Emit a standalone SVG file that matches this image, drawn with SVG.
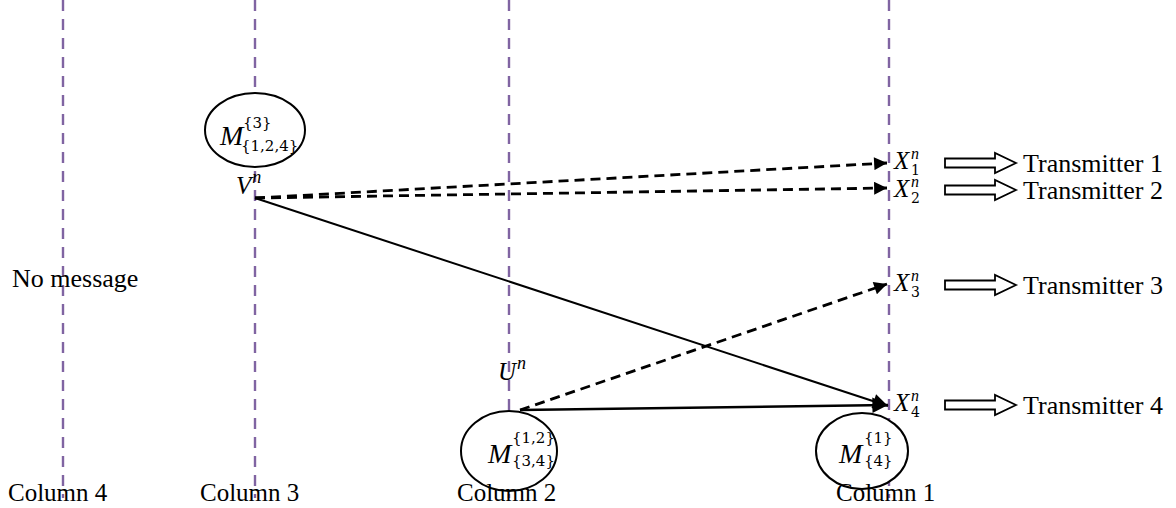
<svg xmlns="http://www.w3.org/2000/svg" width="1176" height="508" viewBox="0 0 1176 508">
<defs>
<style>
.col{stroke:#8064A2;stroke-width:2.4;stroke-dasharray:11 8;fill:none}
.node{fill:#fff;stroke:#000;stroke-width:2}
.dash{stroke:#000;stroke-width:2.8;stroke-dasharray:10 6;fill:none}
.solid{stroke:#000;stroke-width:2;fill:none}
.solid2{stroke:#000;stroke-width:2.6;fill:none}
.lbl{font-family:"Liberation Serif","Times New Roman",serif;font-size:26px;fill:#000}
.col-lbl{font-family:"Liberation Serif","Times New Roman",serif;font-size:25px;fill:#000}
.m{font-family:"Liberation Serif","Times New Roman",serif;font-style:italic;font-size:28px;fill:#000}
.x{font-family:"Liberation Serif","Times New Roman",serif;font-style:italic;font-size:25px;fill:#000}
.sub{font-family:"DejaVu Serif","Liberation Serif",serif;font-style:normal;font-size:15px}
.xs{font-family:"DejaVu Serif","Liberation Serif",serif;font-style:normal;font-size:14px}
.sup{font-family:"Liberation Serif",serif;font-style:italic;font-size:18px}
.xn{font-family:"Liberation Serif",serif;font-style:italic;font-size:16px}
.hollow{fill:#fff;stroke:#000;stroke-width:1.8}
</style>
<marker id="ah" viewBox="0 0 10 10" refX="10" refY="5" markerWidth="5.5" markerHeight="4.6" markerUnits="strokeWidth" orient="auto">
<path d="M0,0 L10,5 L0,10 z" fill="#000"/>
</marker>
<marker id="ahs" viewBox="0 0 10 10" refX="10" refY="5" markerWidth="9" markerHeight="7.5" markerUnits="strokeWidth" orient="auto">
<path d="M0,0 L10,5 L0,10 z" fill="#000"/>
</marker>
<marker id="ahs2" viewBox="0 0 10 10" refX="10" refY="5" markerWidth="7" markerHeight="6" markerUnits="strokeWidth" orient="auto">
<path d="M0,0 L10,5 L0,10 z" fill="#000"/>
</marker>
<path id="harrow" d="M0,-4.5 L50,-4.5 L50,-10 L71,0 L50,10 L50,4.5 L0,4.5 z"/>
</defs>
<rect width="1176" height="508" fill="#fff"/>
<g id="columns">
<line class="col" x1="63" y1="0" x2="63" y2="498"/>
<line class="col" x1="255" y1="0" x2="255" y2="498"/>
<line class="col" x1="509" y1="0" x2="509" y2="498"/>
<line class="col" x1="889" y1="0" x2="889" y2="498"/>
</g>
<g id="connectors">
<line class="dash" x1="255" y1="198" x2="887" y2="163" marker-end="url(#ah)"/>
<line class="dash" x1="255" y1="198" x2="887" y2="188" marker-end="url(#ah)"/>
<line class="solid" x1="255" y1="198" x2="888" y2="406" marker-end="url(#ahs)"/>
<line class="dash" x1="520" y1="410" x2="887" y2="284" marker-end="url(#ah)"/>
<line class="solid2" x1="520" y1="410" x2="888" y2="405" marker-end="url(#ahs2)"/>
<use href="#harrow" class="hollow" x="945" y="163"/>
<use href="#harrow" class="hollow" x="945" y="190"/>
<use href="#harrow" class="hollow" x="945" y="285"/>
<use href="#harrow" class="hollow" x="945" y="405"/>
</g>
<g id="node-m3">
<ellipse class="node" cx="255" cy="130" rx="50" ry="37"/>
<text class="m" x="220" y="145">M<tspan class="sub" x="243" y="128">{3}</tspan><tspan class="sub" x="241" y="151">{1,2,4}</tspan></text>
</g>
<g id="node-m12">
<ellipse class="node" cx="509" cy="451" rx="48" ry="40"/>
<text class="m" x="488" y="463">M<tspan class="sub" x="512" y="443">{1,2}</tspan><tspan class="sub" x="512" y="466">{3,4}</tspan></text>
</g>
<g id="node-m1">
<ellipse class="node" cx="862" cy="451" rx="46" ry="38"/>
<text class="m" x="839" y="463">M<tspan class="sub" x="864" y="443">{1}</tspan><tspan class="sub" x="864" y="466">{4}</tspan></text>
</g>
<g id="labels">
<text class="x" x="236" y="194">V<tspan class="sup" dx="1" dy="-11">n</tspan></text>
<text class="x" x="498" y="380">U<tspan class="sup" dx="1" dy="-11">n</tspan></text>
<text class="x" x="894" y="169">X<tspan class="xn" x="911" y="159">n</tspan><tspan class="xs" x="911" y="175">1</tspan></text>
<text class="x" x="894" y="197">X<tspan class="xn" x="911" y="187">n</tspan><tspan class="xs" x="911" y="203">2</tspan></text>
<text class="x" x="894" y="291">X<tspan class="xn" x="911" y="281">n</tspan><tspan class="xs" x="911" y="297">3</tspan></text>
<text class="x" x="894" y="411">X<tspan class="xn" x="911" y="401">n</tspan><tspan class="xs" x="911" y="417">4</tspan></text>
<text class="lbl" x="1023" y="172">Transmitter 1</text>
<text class="lbl" x="1023" y="199">Transmitter 2</text>
<text class="lbl" x="1023" y="294">Transmitter 3</text>
<text class="lbl" x="1023" y="414">Transmitter 4</text>
<text class="lbl" x="12" y="287">No message</text>
<text class="col-lbl" x="8" y="501">Column 4</text>
<text class="col-lbl" x="200" y="501">Column 3</text>
<text class="col-lbl" x="457" y="501">Column 2</text>
<text class="col-lbl" x="836" y="501">Column 1</text>
</g>
</svg>
